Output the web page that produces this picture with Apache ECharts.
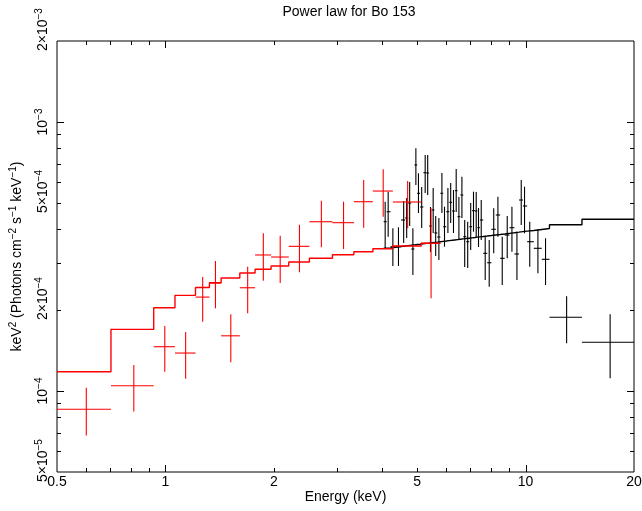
<!DOCTYPE html>
<html>
<head>
<meta charset="utf-8">
<script src="https://cdn.jsdelivr.net/npm/echarts@6/dist/echarts.min.js"></script>
<style>html,body{margin:0;padding:0;background:#fff}#c{width:642px;height:511px}</style>
</head>
<body>
<div id="c"></div>
<script>
// ---- data (flux values in units of 1e-4) ----
const FLUX_UNIT = 1e-4;
const titleText = 'Power law for Bo 153';
const xName = 'Energy (keV)';
// rich text: {s|...} marks a superscript
const yName = 'keV{s|2} (Photons cm{s|\u22122} s{s|\u22121} keV{s|\u22121})';

const redEdges = [0.5, 0.706, 0.928, 1.063, 1.212, 1.325, 1.428, 1.609, 1.774, 1.965, 2.200, 2.511, 2.909, 3.336, 3.767, 4.280, 5.13, 5.80];
const redE = [0.603, 0.817, 0.996, 1.138, 1.269, 1.377, 1.519, 1.692, 1.870, 2.083, 2.356, 2.710, 3.123, 3.552, 4.024, 4.705, 5.465];
const redFlux = [0.855, 1.046, 1.461, 1.384, 2.234, 2.520, 1.604, 2.420, 3.204, 3.148, 3.450, 4.258, 4.224, 5.054, 5.538, 5.042, 3.540];
const redFluxLo = [0.684, 0.840, 1.179, 1.111, 1.809, 2.029, 1.278, 1.944, 2.570, 2.520, 2.762, 3.420, 3.371, 4.044, 4.444, 4.024, 2.210];
const redFluxHi = [1.029, 1.249, 1.744, 1.657, 2.654, 3.042, 1.928, 2.898, 3.856, 3.778, 4.150, 5.098, 5.054, 6.084, 6.668, 6.034, 4.776];
const redModel = [1.179, 1.695, 2.040, 2.268, 2.425, 2.527, 2.630, 2.746, 2.835, 2.915, 3.016, 3.114, 3.212, 3.294, 3.379, 3.458, 3.540];

const blackEdges = [4.036, 4.114, 4.216, 4.358, 4.511, 4.631, 4.721, 4.815, 4.912, 5.001, 5.094, 5.203, 5.304, 5.396, 5.493, 5.582, 5.687, 5.800, 5.905, 6.020, 6.140, 6.251, 6.364, 6.471, 6.592, 6.715, 6.841, 6.974, 7.104, 7.233, 7.345, 7.468, 7.627, 7.825, 8.038, 8.267, 8.498, 8.751, 9.024, 9.311, 9.590, 9.832, 10.10, 10.54, 11.09, 11.65, 14.34, 20];
const blackE = [4.075, 4.154, 4.281, 4.437, 4.587, 4.676, 4.766, 4.865, 4.959, 5.042, 5.147, 5.263, 5.348, 5.444, 5.539, 5.629, 5.745, 5.857, 5.955, 6.086, 6.195, 6.307, 6.417, 6.529, 6.656, 6.776, 6.907, 7.041, 7.168, 7.293, 7.401, 7.531, 7.725, 7.925, 8.157, 8.379, 8.613, 8.893, 9.164, 9.462, 9.726, 9.933, 10.27, 10.82, 11.36, 13.0, 17.17];
const blackFlux = [4.260, 4.640, 3.439, 3.439, 4.322, 4.397, 4.999, 3.372, 6.921, 5.432, 4.831, 6.479, 6.463, 4.106, 4.708, 3.867, 3.737, 5.432, 4.081, 4.640, 5.029, 4.668, 5.554, 4.446, 5.353, 3.746, 3.589, 4.081, 4.680, 4.668, 4.046, 4.322, 3.250, 2.998, 3.991, 4.511, 3.114, 3.801, 4.046, 3.231, 5.129, 4.872, 3.589, 3.392, 3.087, 1.879, 1.517];
const blackFluxLo = [3.392, 3.746, 2.915, 2.915, 3.549, 3.705, 4.106, 2.700, 5.832, 4.589, 4.036, 5.446, 5.353, 3.286, 3.867, 3.176, 3.069, 4.589, 3.439, 3.867, 4.212, 3.867, 4.628, 3.642, 4.397, 2.890, 2.866, 3.343, 3.910, 3.737, 3.430, 3.642, 2.586, 2.442, 3.250, 3.746, 2.478, 3.114, 3.295, 2.586, 4.141, 3.857, 2.898, 2.739, 2.478, 1.504, 1.115];
const blackFluxHi = [5.055, 5.507, 4.026, 4.060, 5.085, 5.218, 5.983, 4.026, 7.984, 6.446, 5.733, 7.539, 7.539, 4.831, 5.684, 4.472, 4.397, 6.463, 4.843, 5.684, 5.932, 5.587, 6.688, 5.262, 6.261, 4.322, 4.260, 4.999, 5.507, 5.493, 4.790, 5.129, 3.746, 3.642, 4.777, 5.276, 3.746, 4.472, 4.843, 3.910, 6.087, 5.748, 4.260, 3.991, 3.696, 2.249, 1.928];
const blackModel = [3.393, 3.404, 3.420, 3.441, 3.459, 3.470, 3.481, 3.493, 3.504, 3.513, 3.525, 3.538, 3.547, 3.557, 3.567, 3.577, 3.589, 3.600, 3.610, 3.623, 3.633, 3.644, 3.654, 3.665, 3.676, 3.687, 3.699, 3.710, 3.721, 3.732, 3.741, 3.752, 3.767, 3.783, 3.802, 3.818, 3.836, 3.856, 3.875, 3.896, 3.914, 3.928, 3.950, 3.985, 4.017, 4.150, 4.348];

const xMin = 0.5, xMax = 20, yMin = 5e-5, yMax = 2e-3;
const xMajorTicks = [1, 10];
const xMinorTicks = [0.6, 0.7, 0.8, 0.9, 2, 3, 4, 5, 6, 7, 8, 9];
const xTickLabels = [0.5, 1, 2, 5, 10, 20];
const yMajorTicks = [1e-4, 1e-3];
const yMinorTicks = [6e-5, 7e-5, 8e-5, 9e-5, 2e-4, 3e-4, 4e-4, 5e-4, 6e-4, 7e-4, 8e-4, 9e-4];
const yTickValues = [5e-5, 1e-4, 2e-4, 5e-4, 1e-3, 2e-3];
const yTickTexts = ['5\u00D710{s|\u22125}', '10{s|\u22124}', '2\u00D710{s|\u22124}', '5\u00D710{s|\u22124}', '10{s|\u22123}', '2\u00D710{s|\u22123}'];

// ---- chart ----
const FONT = '"Liberation Sans", Arial, "DejaVu Sans", sans-serif';
const SUP = {fontSize: 10, fontFamily: FONT, lineHeight: 10, verticalAlign: 'top', color: '#000'};
const chart = echarts.init(document.getElementById('c'), null, {renderer: 'canvas'});

function errData(edges, e, f, lo, hi) {
  return e.map((v, i) => [edges[i], edges[i + 1], v, f[i] * FLUX_UNIT, lo[i] * FLUX_UNIT, hi[i] * FLUX_UNIT]);
}
function stepData(edges, model) {
  const d = model.map((m, i) => [edges[i], m * FLUX_UNIT]);
  d.push([edges[edges.length - 1], model[model.length - 1] * FLUX_UNIT]);
  return d;
}
function errSeries(data, color) {
  return {
    type: 'custom', silent: true, clip: false, data: data,
    encode: {x: [0, 1, 2], y: [3, 4, 5]},
    renderItem: function (params, api) {
      const a = api.coord([api.value(0), api.value(3)]);
      const b = api.coord([api.value(1), api.value(3)]);
      const t = api.coord([api.value(2), api.value(5)]);
      const d = api.coord([api.value(2), api.value(4)]);
      return {type: 'group', children: [
        {type: 'line', shape: {x1: a[0], y1: a[1], x2: b[0], y2: b[1]}, style: {stroke: color, lineWidth: 1.1}},
        {type: 'line', shape: {x1: t[0], y1: t[1], x2: d[0], y2: d[1]}, style: {stroke: color, lineWidth: 1.1}}
      ]};
    }
  };
}
function stepSeries(data, color) {
  return {type: 'line', step: 'end', data: data, symbol: 'none', silent: true,
    lineStyle: {color: color, width: 1.4}, z: 3};
}
function xTickSeries(values, len) {
  return {
    type: 'custom', silent: true, clip: false, data: values.map(v => [v, yMin]),
    encode: {x: 0, y: 1},
    renderItem: function (params, api) {
      const cs = params.coordSys;
      const x = Math.round(api.coord([api.value(0), yMin])[0]) + 0.5;
      const yb = cs.y + cs.height, yt = cs.y;
      return {type: 'group', children: [
        {type: 'line', shape: {x1: x, y1: yb, x2: x, y2: yb - len}, style: {stroke: '#000', lineWidth: 1}},
        {type: 'line', shape: {x1: x, y1: yt, x2: x, y2: yt + len}, style: {stroke: '#000', lineWidth: 1}}
      ]};
    }
  };
}
function yTickSeries(values, len) {
  return {
    type: 'custom', silent: true, clip: false, data: values.map(v => [xMin, v]),
    encode: {x: 0, y: 1},
    renderItem: function (params, api) {
      const cs = params.coordSys;
      const y = Math.round(api.coord([xMin, api.value(1)])[1]) + 0.5;
      const xl = cs.x, xr = cs.x + cs.width;
      return {type: 'group', children: [
        {type: 'line', shape: {x1: xl, y1: y, x2: xl + len, y2: y}, style: {stroke: '#000', lineWidth: 1}},
        {type: 'line', shape: {x1: xr, y1: y, x2: xr - len, y2: y}, style: {stroke: '#000', lineWidth: 1}}
      ]};
    }
  };
}
const xLabelSeries = {
  type: 'custom', silent: true, clip: false, data: xTickLabels.map(v => [v, yMin]),
  encode: {x: 0, y: 1},
  renderItem: function (params, api) {
    const cs = params.coordSys;
    const x = api.coord([api.value(0), yMin])[0];
    return {type: 'text', x: x, y: cs.y + cs.height + 3,
      style: {text: String(xTickLabels[params.dataIndex]), fill: '#000', fontSize: 14, fontFamily: FONT,
        align: 'center', verticalAlign: 'top'}};
  }
};
const yLabelSeries = {
  type: 'custom', silent: true, clip: false, data: yTickValues.map(v => [xMin, v]),
  encode: {x: 0, y: 1},
  renderItem: function (params, api) {
    const y = api.coord([xMin, api.value(1)])[1];
    const txt = yTickTexts[params.dataIndex];
    const mult = txt.indexOf('\u00D7') >= 0;
    return {type: 'text', x: 43, y: mult ? y + 10 : y, rotation: Math.PI / 2,
      style: {text: txt, fill: '#000', fontSize: 14, fontFamily: FONT, lineHeight: 18,
        rich: {s: SUP},
        align: mult ? 'left' : 'center', verticalAlign: 'middle'}};
  }
};

chart.setOption({
  animation: false,
  backgroundColor: '#fff',
  title: {text: titleText, left: 344, top: 0, textAlign: 'center',
    textStyle: {fontSize: 14, fontWeight: 'normal', color: '#000', fontFamily: FONT}},
  grid: {left: 55, top: 41, right: 8, bottom: 39, show: true, borderColor: '#000', borderWidth: 1, backgroundColor: 'transparent'},
  xAxis: {type: 'log', logBase: 10, min: xMin, max: xMax,
    name: xName, nameLocation: 'middle', nameGap: 18,
    nameTextStyle: {fontSize: 14, color: '#000', fontFamily: FONT},
    axisLine: {show: false}, axisTick: {show: false}, axisLabel: {show: false}, splitLine: {show: false}},
  yAxis: {type: 'log', logBase: 10, min: yMin, max: yMax,
    name: yName, nameLocation: 'middle', nameGap: 31, nameRotate: 90,
    nameTextStyle: {fontSize: 14, color: '#000', fontFamily: FONT, lineHeight: 18, rich: {s: SUP}},
    axisLine: {show: false}, axisTick: {show: false}, axisLabel: {show: false}, splitLine: {show: false}},
  series: [
    xTickSeries(xMajorTicks, 7), xTickSeries(xMinorTicks, 4),
    yTickSeries(yMajorTicks, 7), yTickSeries(yMinorTicks, 4),
    xLabelSeries, yLabelSeries,
    errSeries(errData(blackEdges, blackE, blackFlux, blackFluxLo, blackFluxHi), '#000'),
    stepSeries(stepData(blackEdges, blackModel), '#000'),
    errSeries(errData(redEdges, redE, redFlux, redFluxLo, redFluxHi), '#ff0000'),
    stepSeries(stepData(redEdges, redModel), '#ff0000')
  ]
});
</script>
</body>
</html>
